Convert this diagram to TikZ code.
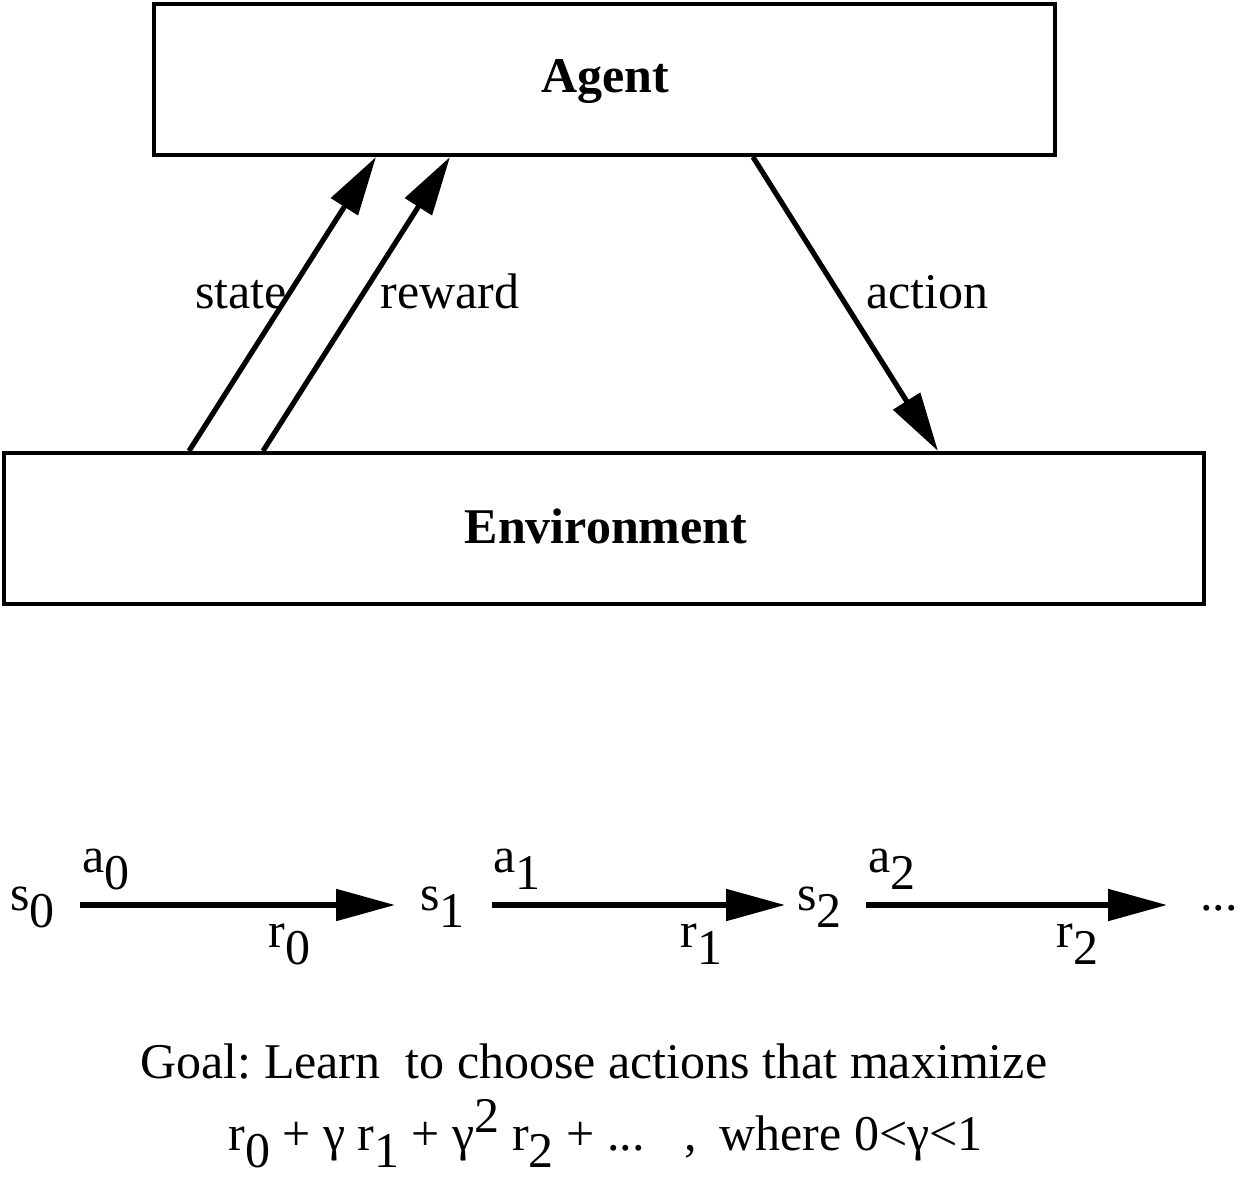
\documentclass[tikz,border=0pt]{standalone}
\usepackage{fontspec}
\setmainfont{Liberation Serif}
\usetikzlibrary{arrows.meta,calc}
\frenchspacing
\newcommand\lowr[1]{\raisebox{-8.5pt}{#1}}
\newcommand\highr[1]{\raisebox{9pt}{#1}}
\begin{document}
\begin{tikzpicture}[x=0.5pt,y=-0.5pt,
  box/.style={draw,line width=2pt,inner sep=0pt,minimum height=75.5pt},
  lbl/.style={inner sep=0pt,font=\fontsize{25}{30}\selectfont},
  arr/.style={line width=2.6pt,-{Triangle[length=29.5pt,width=15.5pt]}}]
\useasboundingbox (0,0) rectangle (1242,1188);
\node[box,minimum width=450.5pt] (agent) at (604.5,79.5) {};
\node[box,minimum width=600pt] (env) at (604,528.5) {};
\node[lbl,font=\fontsize{25}{30}\selectfont\bfseries,anchor=base] (agentt) at (605,93) {Agent};
\node[lbl,font=\fontsize{25}{30}\selectfont\bfseries,anchor=base] (envt) at (606,543) {Environment};
\draw[arr] ($(env.north west)+(187,0)$) -- ($(agent.south west)+(224,0)$);
\draw[arr] ($(env.north west)+(261,0)$) -- ($(agent.south west)+(298,0)$);
\draw[arr] ($(agent.south west)+(601,0)$) -- ($(env.north west)+(936,0)$);
\node[lbl,anchor=base west] (state) at (195,308) {state};
\node[lbl,anchor=base west] (reward) at (380,308) {reward};
\node[lbl,anchor=base west] (action) at (866,308) {action};
% sequence
\node[lbl,anchor=base west] (s0) at (10,910) {s\lowr{0}};
\node[lbl,anchor=base west] (s1) at (420,910) {s\lowr{1}};
\node[lbl,anchor=base west] (s2) at (797,910) {s\lowr{2}};
\node[lbl,anchor=base west] (dots) at (1200,910) {...};
\node[lbl,anchor=base west] (a0) at (82,872) {a\lowr{0}};
\node[lbl,anchor=base west] (a1) at (493,872) {a\lowr{1}};
\node[lbl,anchor=base west] (a2) at (868,872) {a\lowr{2}};
\node[lbl,anchor=base west] (r0) at (268,947) {r\lowr{0}};
\node[lbl,anchor=base west] (r1) at (680,947) {r\lowr{1}};
\node[lbl,anchor=base west] (r2) at (1056,947) {r\lowr{2}};
\coordinate (e0a) at (80,905); \coordinate (e0b) at (395,905);
\coordinate (e1a) at (492,905); \coordinate (e1b) at (785,905);
\coordinate (e2a) at (866,905); \coordinate (e2b) at (1167,905);
\draw[arr] (e0a) -- (e0b);
\draw[arr] (e1a) -- (e1b);
\draw[arr] (e2a) -- (e2b);
\node[lbl,anchor=base west] (goal) at (140,1078) {Goal: Learn\hspace{0.5em}to choose actions that maximize};
\node[lbl,anchor=base west] (formula) at (228,1150) {r\lowr{0} + γ r\lowr{1} + γ\highr{2} r\lowr{2} + ...\hspace{20pt}, \hspace{5pt}where 0<γ<1};
\end{tikzpicture}
\end{document}
